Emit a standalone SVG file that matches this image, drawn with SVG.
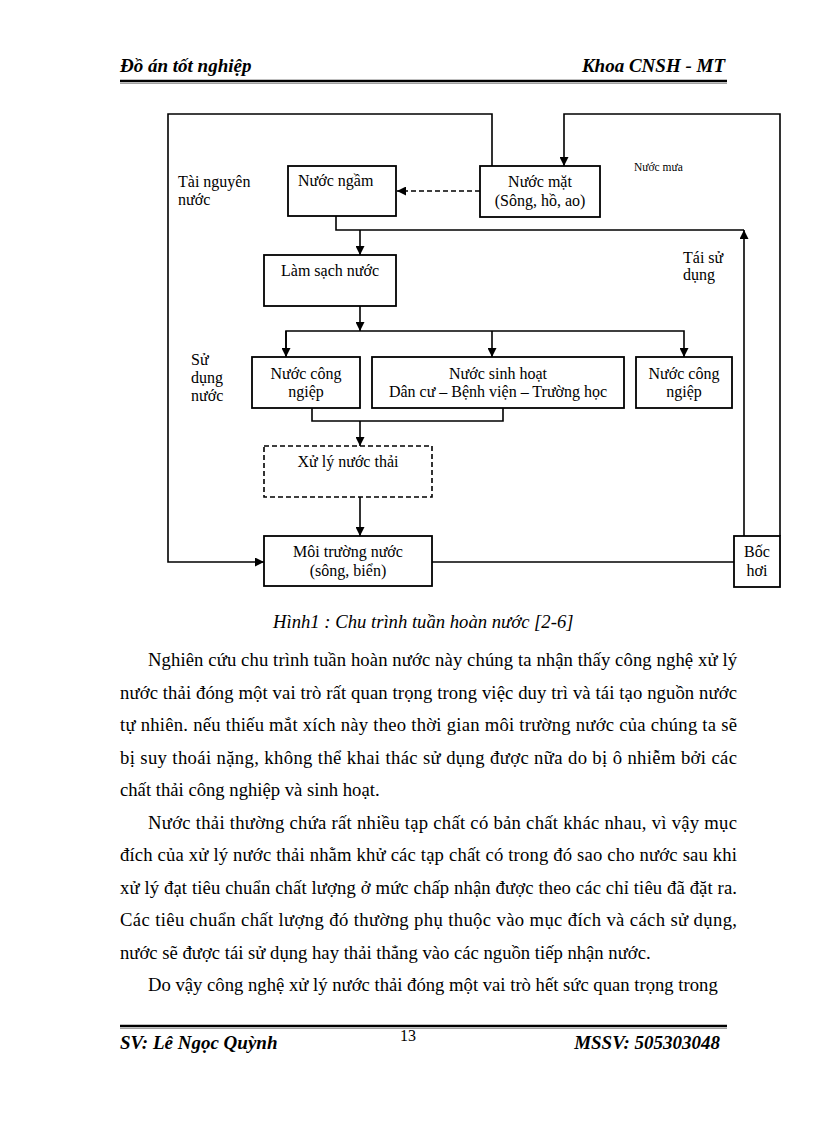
<svg xmlns="http://www.w3.org/2000/svg" width="816" height="1123" viewBox="0 0 816 1123">
<defs>
<marker id="ah" markerWidth="10" markerHeight="9" refX="9" refY="4.5" orient="auto" markerUnits="userSpaceOnUse">
<path d="M0,0 L9,4.5 L0,9 Z" fill="#000"/>
</marker>
</defs>
<style>
.box{fill:#fff;stroke:#000;stroke-width:1.8}
.dbox{fill:#fff;stroke:#000;stroke-width:1.6;stroke-dasharray:5,3}
.ln{fill:none;stroke:#000;stroke-width:1.6}
.dl{fill:none;stroke:#000;stroke-width:1.6;stroke-dasharray:5,3}
.t{font-family:"Liberation Serif","Times New Roman",serif;font-size:16px;fill:#000}
.tc{text-anchor:middle}
.sm{font-family:"Liberation Serif","Times New Roman",serif;font-size:11.5px;fill:#000}
.body{font-family:"Liberation Serif","Times New Roman",serif;font-size:18.67px;fill:#000}
.cap{font-family:"Liberation Serif","Times New Roman",serif;font-size:18.67px;font-style:italic;fill:#000}
.hd{font-family:"Liberation Serif","Times New Roman",serif;font-size:19px;font-style:italic;font-weight:bold;fill:#000}
</style>
<rect width="816" height="1123" fill="#fff"/>

<g id="header">
<text class="hd" x="120" y="72">Đồ án tốt nghiệp</text>
<text class="hd" x="725" y="72" text-anchor="end">Khoa CNSH - MT</text>
<line x1="120" y1="81" x2="727" y2="81" stroke="#000" stroke-width="2.5"/>
<line x1="120" y1="83.5" x2="727" y2="83.5" stroke="#888" stroke-width="0.8"/>
</g>

<g id="connectors">
<path class="ln" d="M492,166 V114 H168 V562 H264" marker-end="url(#ah)"/>
<path class="ln" d="M780,536 V114 H564 V166" marker-end="url(#ah)"/>
<path class="dl" d="M480,191 H397" marker-end="url(#ah)"/>
<path class="ln" d="M336,216 V230 H744"/>
<path class="ln" d="M744,536 V230" marker-end="url(#ah)"/>
<path class="ln" d="M360,230 V255" marker-end="url(#ah)"/>
<path class="ln" d="M360,306 V331" marker-end="url(#ah)"/>
<path class="ln" d="M286,357 V331 H684 V357" marker-end="url(#ah)"/>
<path class="ln" d="M286,331 V357" marker-end="url(#ah)"/>
<path class="ln" d="M492,331 V357" marker-end="url(#ah)"/>
<path class="ln" d="M312,408 V421 H503 V408"/>
<path class="ln" d="M360,421 V446" marker-end="url(#ah)"/>
<path class="ln" d="M360,497 V536" marker-end="url(#ah)"/>
<path class="ln" d="M432,562 H734"/>
</g>

<g id="nuoc-ngam">
<rect class="box" x="288" y="166" width="108" height="50"/>
<text class="t" x="298" y="186">Nước ngầm</text>
</g>
<g id="nuoc-mat">
<rect class="box" x="480" y="166" width="120" height="51"/>
<text class="t tc" x="540" y="187">Nước mặt</text>
<text class="t tc" x="540" y="206">(Sông, hồ, ao)</text>
</g>
<g id="lam-sach">
<rect class="box" x="264" y="255" width="132" height="51"/>
<text class="t tc" x="330" y="276">Làm sạch nước</text>
</g>
<g id="cong-nghiep-1">
<rect class="box" x="252" y="357" width="108" height="51"/>
<text class="t tc" x="306" y="379">Nước công</text>
<text class="t tc" x="306" y="397">ngiệp</text>
</g>
<g id="sinh-hoat">
<rect class="box" x="372" y="357" width="252" height="51"/>
<text class="t tc" x="498" y="379">Nước sinh hoạt</text>
<text class="t tc" x="498" y="397">Dân cư – Bệnh viện – Trường học</text>
</g>
<g id="cong-nghiep-2">
<rect class="box" x="636" y="357" width="96" height="51"/>
<text class="t tc" x="684" y="379">Nước công</text>
<text class="t tc" x="684" y="397">ngiệp</text>
</g>
<g id="xu-ly">
<rect class="dbox" x="264" y="446" width="168" height="51"/>
<text class="t tc" x="348" y="467">Xử lý nước thải</text>
</g>
<g id="moi-truong">
<rect class="box" x="264" y="536" width="168" height="50"/>
<text class="t tc" x="348" y="557">Môi trường nước</text>
<text class="t tc" x="348" y="576">(sông, biển)</text>
</g>
<g id="boc-hoi">
<rect class="box" x="734" y="536" width="46" height="51"/>
<text class="t tc" x="757" y="557">Bốc</text>
<text class="t tc" x="757" y="576">hơi</text>
</g>

<g id="labels">
<text class="t" x="178" y="187">Tài nguyên</text>
<text class="t" x="178" y="205">nước</text>
<text class="sm" x="634" y="171">Nước mưa</text>
<text class="t" x="683" y="263">Tái sử</text>
<text class="t" x="683" y="280">dụng</text>
<text class="t" x="191" y="365">Sử</text>
<text class="t" x="191" y="383">dụng</text>
<text class="t" x="191" y="401">nước</text>
</g>

<g id="caption">
<text class="cap" x="273" y="628">Hình1 : Chu trình tuần hoàn nước [2-6]</text>
</g>

<g id="body">
<text class="body" x="148" y="666" textLength="589" lengthAdjust="spacing">Nghiên cứu chu trình tuần hoàn nước này chúng ta nhận thấy công nghệ xử lý</text>
<text class="body" x="120" y="698.5" textLength="617" lengthAdjust="spacing">nước thải đóng một vai trò rất quan trọng trong việc duy trì và tái tạo nguồn nước</text>
<text class="body" x="120" y="731" textLength="617" lengthAdjust="spacing">tự nhiên. nếu thiếu mắt xích này theo thời gian môi trường nước của chúng ta sẽ</text>
<text class="body" x="120" y="763.5" textLength="617" lengthAdjust="spacing">bị suy thoái nặng, không thể khai thác sử dụng được nữa do bị ô nhiễm bởi các</text>
<text class="body" x="120" y="796">chất thải công nghiệp và sinh hoạt.</text>
<text class="body" x="148" y="828.5" textLength="589" lengthAdjust="spacing">Nước thải thường chứa rất nhiều tạp chất có bản chất khác nhau, vì vậy mục</text>
<text class="body" x="120" y="861" textLength="617" lengthAdjust="spacing">đích của xử lý nước thải nhằm khử các tạp chất có trong đó sao cho nước sau khi</text>
<text class="body" x="120" y="893.5" textLength="617" lengthAdjust="spacing">xử lý đạt tiêu chuẩn chất lượng ở mức chấp nhận được theo các chỉ tiêu đã đặt ra.</text>
<text class="body" x="120" y="926" textLength="617" lengthAdjust="spacing">Các tiêu chuẩn chất lượng đó thường phụ thuộc vào mục đích và cách sử dụng,</text>
<text class="body" x="120" y="958.5">nước sẽ được tái sử dụng hay thải thẳng vào các nguồn tiếp nhận nước.</text>
<text class="body" x="148" y="991">Do vậy công nghệ xử lý nước thải đóng một vai trò hết sức quan trọng trong</text>
</g>

<g id="footer">
<line x1="120" y1="1026" x2="727" y2="1026" stroke="#000" stroke-width="2.5"/>
<line x1="120" y1="1028.5" x2="727" y2="1028.5" stroke="#888" stroke-width="0.8"/>
<text class="hd" x="120" y="1049">SV: Lê Ngọc Quỳnh</text>
<text class="t tc" x="408" y="1041">13</text>
<text class="hd" x="720" y="1049" text-anchor="end">MSSV: 505303048</text>
</g>
</svg>
